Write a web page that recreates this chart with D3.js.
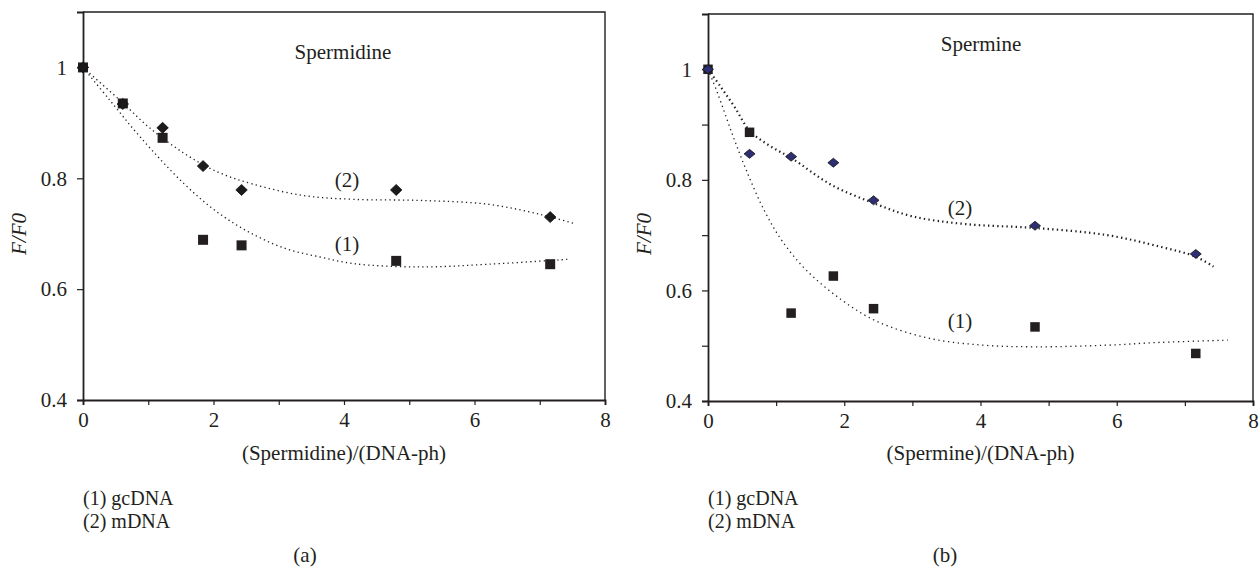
<!DOCTYPE html>
<html>
  <head>
	<title>F/F0 vs polyamine</title>
	<script src="https://d3js.org/d3.v7.min.js"></script>
	<style>
		body { margin: 0; background: #fff; }
		svg text { font-family: "Liberation Serif", "Times New Roman", serif; fill: #231f20; }
	</style>
  </head>
  <body>
	<svg id="chart" width="1259" height="573"></svg>
	<script type="text/javascript">
		// x positions shared by both panels (polyamine / DNA-ph)
		const ratio = [0, 0.61, 1.22, 1.84, 2.43, 4.8, 7.16];

		// (a) spermidine
		const spdGc = [1, 0.935, 0.873, 0.689, 0.679, 0.651, 0.645];
		const spdM = [1, 0.934, 0.891, 0.822, 0.779, 0.779, 0.730];
		const spdFitGcX = [0, 0.41, 0.88, 1.55, 2.07, 2.59, 3.11, 3.63, 4.15, 5.18, 6.22, 7.46];
		const spdFitGcY = [1, 0.941, 0.874, 0.790, 0.738, 0.700, 0.673, 0.658, 0.646, 0.640, 0.645, 0.654];
		const spdFitMX = [0, 0.62, 1.0, 1.55, 2.07, 2.59, 3.37, 4.15, 5.18, 6.22, 7.0, 7.51];
		const spdFitMY = [1, 0.935, 0.893, 0.845, 0.811, 0.790, 0.769, 0.762, 0.760, 0.753, 0.735, 0.719];

		// (b) spermine
		const spmGc = [1, 0.886, 0.559, 0.626, 0.567, 0.534, 0.486];
		const spmM = [1, 0.847, 0.842, 0.831, 0.763, 0.717, 0.666];
		const spmFitGcX = [0, 0.14, 0.35, 0.56, 0.82, 1.08, 1.44, 1.96, 2.48, 3.26, 4.04, 4.82, 5.86, 6.64, 7.63];
		const spmFitGcY = [1, 0.957, 0.885, 0.818, 0.746, 0.691, 0.637, 0.583, 0.544, 0.513, 0.501, 0.498, 0.501, 0.506, 0.510];
		const spmFitMX = [0, 0.2, 0.4, 0.61, 0.9, 1.23, 1.81, 2.43, 3.0, 3.78, 4.80, 5.86, 6.64, 7.16, 7.42];
		const spmFitMY = [1, 0.966, 0.930, 0.889, 0.862, 0.839, 0.791, 0.758, 0.734, 0.720, 0.713, 0.700, 0.679, 0.661, 0.643];

		const xTicks = [0, 1, 2, 3, 4, 5, 6, 7, 8];
		const yMajor = [0.4, 0.6, 0.8, 1];
		const yMinor = [0.4, 0.5, 0.6, 0.7, 0.8, 0.9, 1];
		const legendLines = ["(1) gcDNA", "(2) mDNA"];

		const ink = "#231f20";
		const fontSize = 21;
		var svg = d3.select("#chart");

		function zip(xs, ys) {
			return xs.map(function(x, i) { return [x, ys[i]]; });
		}

		function drawPanel(p) {
			var x = d3.scaleLinear().domain([0, 8]).range([p.left, p.right]);
			var y = d3.scaleLinear().domain([0.4, 1.1]).range([p.bottom, p.top]);
			var g = svg.append("g");

			//Frame (top and right edges)
			g.append("path")
				.attr("d", "M" + x(0) + "," + y(1.1) + "H" + x(8) + "V" + y(0.4))
				.attr("fill", "none")
				.attr("stroke", ink)
				.attr("stroke-width", 1.4);

			//Axes
			var xAxis = g.append("g")
				.attr("transform", "translate(0," + y(0.4) + ")")
				.call(d3.axisBottom(x).tickValues(xTicks).tickSize(5).tickPadding(7)
					.tickFormat(function(d) { return d % 2 === 0 ? d : ""; }));
			var yAxis = g.append("g")
				.attr("transform", "translate(" + x(0) + ",0)")
				.call(d3.axisLeft(y).tickValues(p.yTicks).tickSize(6).tickPadding(10)
					.tickFormat(function(d) { return yMajor.indexOf(d) >= 0 ? d3.format("~g")(d) : ""; }));
			[xAxis, yAxis].forEach(function(a) {
				a.select(".domain").attr("stroke", ink).attr("stroke-width", 1.8);
				a.selectAll(".tick line").attr("stroke", ink).attr("stroke-width", 1.2);
				a.selectAll(".tick text")
					.attr("font-family", "Liberation Serif")
					.attr("font-size", fontSize)
					.attr("fill", ink);
			});

			//Trend lines
			var line = d3.line()
				.x(function(d) { return x(d[0]); })
				.y(function(d) { return y(d[1]); })
				.curve(d3.curveCatmullRom.alpha(0.5));
			p.fits.forEach(function(f) {
				g.append("path")
					.attr("d", line(f.pts))
					.attr("fill", "none")
					.attr("stroke", ink)
					.attr("stroke-width", f.width)
					.attr("stroke-dasharray", f.dash)
					.attr("stroke-linecap", "butt");
			});

			//gcDNA squares
			var sq = p.sq;
			g.selectAll(".gc")
				.data(zip(ratio, p.gc))
				.enter().append("rect")
				.attr("x", function(d) { return x(d[0]) - sq / 2; })
				.attr("y", function(d) { return y(d[1]) - sq / 2; })
				.attr("width", sq)
				.attr("height", sq)
				.attr("fill", ink);

			//mDNA diamonds
			var dw = p.dw, dh = p.dh;
			g.selectAll(".m")
				.data(zip(ratio, p.m))
				.enter().append("path")
				.attr("transform", function(d) { return "translate(" + x(d[0]) + "," + y(d[1]) + ")"; })
				.attr("d", "M0," + (-dh / 2) + "L" + (dw / 2) + ",0L0," + (dh / 2) + "L" + (-dw / 2) + ",0Z")
				.attr("fill", p.diamondFill)
				.attr("stroke", "#111")
				.attr("stroke-width", 0.8);

			//Curve labels
			p.curveLabels.forEach(function(c) {
				g.append("text")
					.attr("x", c.x)
					.attr("y", c.y)
					.attr("text-anchor", "middle")
					.attr("font-size", fontSize)
					.text(c.text);
			});

			//Title inside plot
			g.append("text")
				.attr("x", p.titleX)
				.attr("y", p.titleY)
				.attr("text-anchor", "middle")
				.attr("font-size", fontSize)
				.text(p.title);

			//Axis titles
			g.append("text")
				.attr("transform", "translate(" + p.yLabelX + ",234) rotate(-90)")
				.attr("text-anchor", "middle")
				.attr("font-size", fontSize)
				.attr("font-style", "italic")
				.text("F/F0");
			g.append("text")
				.attr("x", (p.left + p.right) / 2)
				.attr("y", 460)
				.attr("text-anchor", "middle")
				.attr("font-size", fontSize)
				.text(p.xLabel);

			//Legend below
			legendLines.forEach(function(t, i) {
				g.append("text")
					.attr("x", p.left)
					.attr("y", 505 + i * 23)
					.attr("font-size", 20)
					.text(t);
			});

			g.append("text")
				.attr("x", p.tagX)
				.attr("y", 562)
				.attr("text-anchor", "middle")
				.attr("font-size", fontSize)
				.text(p.tag);
		}

		drawPanel({
			left: 83, right: 605, top: 12, bottom: 400,
			yTicks: yMajor,
			gc: spdGc, m: spdM,
			fits: [
				{pts: zip(spdFitGcX, spdFitGcY), width: 1.3, dash: "1.3,3.2"},
				{pts: zip(spdFitMX, spdFitMY), width: 1.3, dash: "1.3,3.2"}
			],
			sq: 10, dw: 11.5, dh: 11, diamondFill: "#1c1a1b",
			curveLabels: [{x: 347, y: 187, text: "(2)"}, {x: 347, y: 251, text: "(1)"}],
			title: "Spermidine", titleX: 343, titleY: 59,
			xLabel: "(Spermidine)/(DNA-ph)",
			yLabelX: 26, tag: "(a)", tagX: 305
		});

		drawPanel({
			left: 708, right: 1253, top: 14, bottom: 401,
			yTicks: yMinor,
			gc: spmGc, m: spmM,
			fits: [
				{pts: zip(spmFitGcX, spmFitGcY), width: 1.3, dash: "1.3,3.6"},
				{pts: zip(spmFitMX, spmFitMY), width: 2.2, dash: "1.4,3.2"}
			],
			sq: 9.5, dw: 11, dh: 9, diamondFill: "#2e2f72",
			curveLabels: [{x: 960, y: 215, text: "(2)"}, {x: 960, y: 328, text: "(1)"}],
			title: "Spermine", titleX: 981, titleY: 51,
			xLabel: "(Spermine)/(DNA-ph)",
			yLabelX: 651, tag: "(b)", tagX: 945
		});
	</script>
  </body>
</html>
